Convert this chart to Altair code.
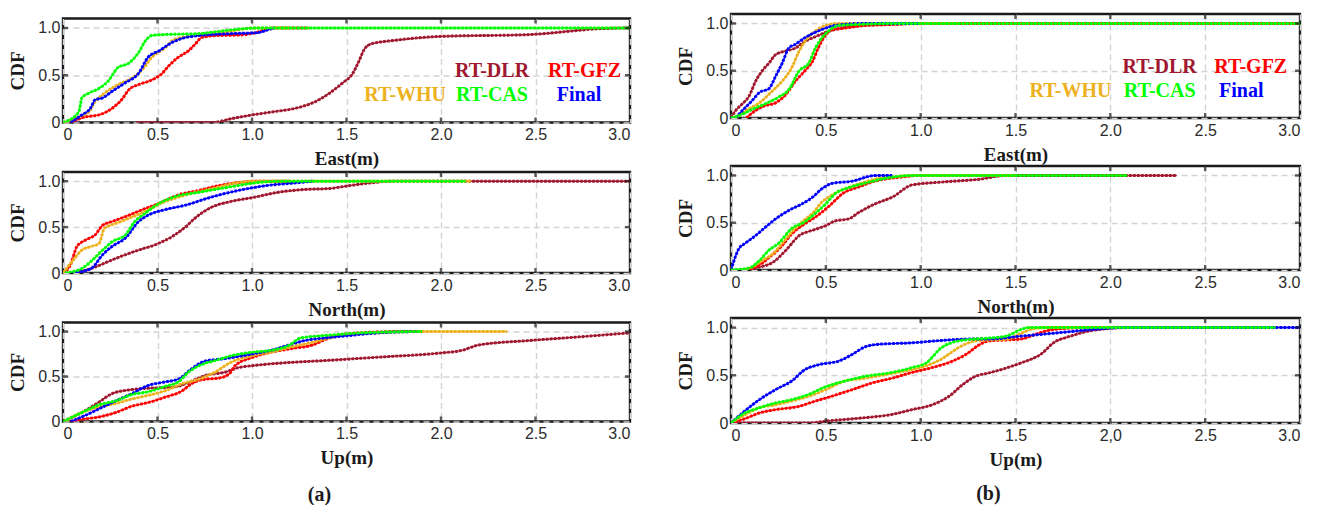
import altair as alt
import pandas as pd

# ---------------- data ----------------
SERIES = ["RT-DLR", "RT-GFZ", "RT-WHU", "RT-CAS", "Final"]
COLORS = ["#A0182F", "#FF0000", "#EDB120", "#00FF00", "#0000FF"]
X_TICKS = [0, 0.5, 1.0, 1.5, 2.0, 2.5, 3.0]
Y_TICKS = [0, 0.5, 1.0]
X_TITLES = ["East(m)", "North(m)", "Up(m)"]
PANEL_LABELS = ["(a)", "(b)"]

# (a) East
A_E_DLR = [(0.39, 0), (0.79, 0), (0.89, 0.04), (1.0, 0.08), (1.1, 0.11), (1.25, 0.16), (1.335, 0.22),
           (1.41, 0.31), (1.48, 0.42), (1.53, 0.51), (1.566, 0.65), (1.593, 0.77), (1.628, 0.83),
           (1.76, 0.87), (1.99, 0.91), (2.47, 0.93), (2.73, 0.975), (2.82, 0.99), (3.0, 1.0)]
A_E_GFZ = [(0.04, 0), (0.12, 0.06), (0.19, 0.08), (0.26, 0.15), (0.31, 0.24), (0.35, 0.35), (0.40, 0.40),
           (0.47, 0.45), (0.52, 0.51), (0.56, 0.60), (0.61, 0.69), (0.665, 0.76), (0.70, 0.83),
           (0.735, 0.90), (0.81, 0.92), (0.93, 0.925), (1.02, 0.95), (1.07, 0.98), (1.12, 1.0), (1.3, 1.0)]
A_E_WHU = [(0.01, 0), (0.08, 0.06), (0.136, 0.11), (0.17, 0.22), (0.22, 0.31), (0.29, 0.40), (0.365, 0.47),
           (0.42, 0.56), (0.47, 0.69), (0.54, 0.79), (0.59, 0.88), (0.665, 0.91), (0.81, 0.94),
           (0.93, 0.98), (1.0, 1.0), (1.2, 1.0)]
A_E_CAS = [(0, 0), (0.083, 0.11), (0.1, 0.26), (0.136, 0.31), (0.19, 0.36), (0.24, 0.44), (0.29, 0.58),
           (0.35, 0.63), (0.40, 0.74), (0.435, 0.86), (0.47, 0.92), (0.54, 0.93), (0.72, 0.94),
           (0.89, 0.98), (1.03, 1.0), (3.0, 1.0)]
A_E_FIN = [(0.04, 0), (0.1, 0.08), (0.145, 0.15), (0.17, 0.24), (0.21, 0.26), (0.26, 0.33), (0.33, 0.42),
           (0.40, 0.52), (0.45, 0.69), (0.51, 0.76), (0.58, 0.85), (0.65, 0.90), (0.72, 0.92),
           (0.89, 0.94), (1.03, 0.95), (1.1, 0.99), (1.12, 1.0)]

# (a) North
A_N_DLR = [(0.065, 0), (0.15, 0.05), (0.28, 0.16), (0.40, 0.25), (0.49, 0.31), (0.58, 0.40), (0.65, 0.505),
           (0.70, 0.60), (0.77, 0.70), (0.89, 0.78), (1.0, 0.82), (1.14, 0.88), (1.28, 0.91), (1.41, 0.92),
           (1.51, 0.95), (1.62, 0.98), (1.75, 1.0), (3.0, 1.0)]
A_N_GFZ = [(0, 0), (0.04, 0.09), (0.074, 0.29), (0.12, 0.36), (0.17, 0.415), (0.21, 0.52), (0.26, 0.56),
           (0.35, 0.63), (0.42, 0.69), (0.51, 0.76), (0.61, 0.85), (0.72, 0.90), (0.82, 0.95),
           (0.93, 0.985), (1.02, 1.0), (1.2, 1.0)]
A_N_WHU = [(0, 0), (0.05, 0.13), (0.1, 0.25), (0.15, 0.29), (0.19, 0.32), (0.22, 0.49), (0.28, 0.54),
           (0.365, 0.61), (0.435, 0.67), (0.52, 0.76), (0.65, 0.85), (0.79, 0.92), (0.93, 0.985),
           (1.0, 1.0), (2.16, 1.0)]
A_N_CAS = [(0.01, 0), (0.1, 0.05), (0.15, 0.13), (0.21, 0.25), (0.26, 0.34), (0.33, 0.415), (0.38, 0.56),
           (0.435, 0.65), (0.51, 0.76), (0.59, 0.83), (0.72, 0.88), (0.89, 0.94), (1.03, 0.985),
           (1.16, 1.0), (2.13, 1.0)]
A_N_FIN = [(0.05, 0), (0.15, 0.05), (0.21, 0.20), (0.26, 0.29), (0.33, 0.38), (0.40, 0.56), (0.45, 0.63),
           (0.54, 0.69), (0.65, 0.74), (0.79, 0.83), (0.93, 0.90), (1.07, 0.95), (1.25, 0.985), (1.32, 1.0)]

# (a) Up
A_U_DLR = [(0, 0), (0.1, 0.10), (0.19, 0.215), (0.26, 0.31), (0.365, 0.355), (0.45, 0.37), (0.58, 0.38),
           (0.65, 0.42), (0.75, 0.51), (0.86, 0.55), (0.93, 0.60), (1.0, 0.62), (1.16, 0.65), (1.41, 0.68),
           (1.67, 0.715), (1.99, 0.76), (2.11, 0.79), (2.20, 0.85), (2.47, 0.90), (2.73, 0.94), (3.0, 0.985)]
A_U_GFZ = [(0.04, 0), (0.12, 0.03), (0.19, 0.05), (0.28, 0.10), (0.365, 0.17), (0.45, 0.21), (0.54, 0.27),
           (0.63, 0.34), (0.68, 0.42), (0.75, 0.47), (0.82, 0.48), (0.88, 0.53), (0.91, 0.62), (1.0, 0.71),
           (1.1, 0.77), (1.21, 0.81), (1.32, 0.85), (1.41, 0.93), (1.45, 0.955), (1.58, 0.985),
           (1.8, 1.0), (1.9, 1.0)]
A_U_WHU = [(0.01, 0), (0.1, 0.10), (0.19, 0.16), (0.28, 0.20), (0.365, 0.25), (0.45, 0.29), (0.54, 0.34),
           (0.63, 0.42), (0.72, 0.47), (0.81, 0.555), (0.89, 0.66), (1.0, 0.73), (1.1, 0.77), (1.21, 0.83),
           (1.32, 0.88), (1.41, 0.93), (1.49, 0.96), (1.67, 0.985), (1.85, 1.0), (2.35, 1.0)]
A_U_CAS = [(0, 0), (0.1, 0.10), (0.19, 0.185), (0.28, 0.23), (0.365, 0.30), (0.45, 0.33), (0.54, 0.39),
           (0.61, 0.44), (0.665, 0.55), (0.72, 0.62), (0.81, 0.68), (0.89, 0.73), (1.0, 0.77), (1.1, 0.79),
           (1.19, 0.84), (1.26, 0.93), (1.35, 0.95), (1.41, 0.96), (1.58, 0.985), (1.9, 1.0)]
A_U_FIN = [(0.04, 0), (0.12, 0.07), (0.19, 0.14), (0.28, 0.23), (0.365, 0.31), (0.45, 0.40), (0.54, 0.44),
           (0.61, 0.47), (0.68, 0.585), (0.75, 0.67), (0.86, 0.70), (1.0, 0.75), (1.1, 0.79), (1.21, 0.86),
           (1.28, 0.90), (1.39, 0.93), (1.51, 0.955), (1.67, 0.985), (1.88, 1.0)]

# (b) East
B_E_DLR = [(0, 0), (0.025, 0.08), (0.06, 0.15), (0.095, 0.23), (0.13, 0.39), (0.165, 0.50), (0.20, 0.58),
           (0.235, 0.67), (0.29, 0.71), (0.34, 0.74), (0.39, 0.81), (0.445, 0.86), (0.52, 0.92),
           (0.60, 0.96), (0.71, 0.98), (0.85, 0.99), (0.95, 1.0), (1.5, 1.0)]
B_E_GFZ = [(0.08, 0), (0.13, 0.08), (0.18, 0.13), (0.235, 0.16), (0.29, 0.25), (0.34, 0.39), (0.39, 0.50),
           (0.43, 0.60), (0.46, 0.74), (0.5, 0.88), (0.53, 0.93), (0.60, 0.95), (0.71, 0.98), (0.85, 0.99),
           (1.0, 1.0), (3.0, 1.0)]
B_E_WHU = [(0.025, 0), (0.08, 0.08), (0.15, 0.16), (0.22, 0.29), (0.27, 0.39), (0.32, 0.53), (0.36, 0.71),
           (0.39, 0.81), (0.445, 0.92), (0.5, 0.98), (0.57, 1.0), (1.2, 1.0)]
B_E_CAS = [(0, 0), (0.06, 0.04), (0.11, 0.09), (0.18, 0.15), (0.25, 0.22), (0.305, 0.30), (0.36, 0.50),
           (0.41, 0.58), (0.445, 0.74), (0.48, 0.85), (0.52, 0.93), (0.57, 0.98), (0.675, 0.99),
           (0.85, 1.0), (3.0, 1.0)]
B_E_FIN = [(0.025, 0), (0.06, 0.08), (0.11, 0.18), (0.15, 0.27), (0.20, 0.31), (0.235, 0.44), (0.27, 0.58),
           (0.305, 0.74), (0.34, 0.78), (0.39, 0.85), (0.46, 0.92), (0.53, 0.97), (0.60, 0.99),
           (0.7, 1.0), (1.0, 1.0)]

# (b) North
B_N_DLR = [(0.08, 0), (0.15, 0.03), (0.22, 0.08), (0.29, 0.21), (0.36, 0.365), (0.43, 0.42), (0.5, 0.47),
           (0.55, 0.52), (0.62, 0.54), (0.675, 0.61), (0.76, 0.70), (0.85, 0.77), (0.955, 0.90),
           (1.11, 0.93), (1.31, 0.96), (1.45, 1.0), (2.35, 1.0)]
B_N_GFZ = [(0.06, 0), (0.13, 0.03), (0.20, 0.13), (0.27, 0.26), (0.32, 0.38), (0.39, 0.49), (0.445, 0.56),
           (0.52, 0.68), (0.59, 0.81), (0.675, 0.88), (0.76, 0.94), (0.885, 0.98), (1.0, 1.0), (1.5, 1.0)]
B_N_WHU = [(0.04, 0), (0.11, 0.03), (0.165, 0.10), (0.22, 0.17), (0.27, 0.28), (0.32, 0.40), (0.375, 0.51),
           (0.43, 0.60), (0.48, 0.72), (0.53, 0.79), (0.59, 0.85), (0.675, 0.91), (0.78, 0.97),
           (0.885, 0.99), (0.95, 1.0), (1.5, 1.0)]
B_N_CAS = [(0, 0), (0.095, 0.02), (0.15, 0.10), (0.20, 0.21), (0.25, 0.28), (0.32, 0.44), (0.39, 0.51),
           (0.445, 0.60), (0.5, 0.70), (0.55, 0.81), (0.62, 0.87), (0.71, 0.92), (0.815, 0.97),
           (0.955, 1.0), (2.09, 1.0)]
B_N_FIN = [(0, 0), (0.016, 0.10), (0.04, 0.22), (0.08, 0.29), (0.13, 0.365), (0.18, 0.45), (0.235, 0.54),
           (0.305, 0.63), (0.375, 0.70), (0.43, 0.77), (0.48, 0.86), (0.53, 0.915), (0.64, 0.94),
           (0.76, 1.0), (0.85, 1.0)]

# (b) Up
B_U_DLR = [(0, 0), (0.41, 0), (0.5, 0.02), (0.675, 0.05), (0.85, 0.09), (0.955, 0.14), (1.06, 0.19),
           (1.15, 0.28), (1.22, 0.40), (1.29, 0.49), (1.36, 0.525), (1.45, 0.575), (1.53, 0.63),
           (1.64, 0.73), (1.70, 0.84), (1.79, 0.91), (1.88, 0.96), (1.99, 0.99), (2.1, 1.0), (2.5, 1.0)]
B_U_GFZ = [(0, 0), (0.08, 0.05), (0.15, 0.105), (0.235, 0.14), (0.36, 0.175), (0.445, 0.23), (0.53, 0.28),
           (0.64, 0.35), (0.745, 0.42), (0.85, 0.47), (0.955, 0.53), (1.06, 0.58), (1.17, 0.65),
           (1.24, 0.72), (1.31, 0.82), (1.36, 0.86), (1.45, 0.87), (1.53, 0.88), (1.62, 0.94),
           (1.70, 0.98), (1.88, 1.0), (2.6, 1.0)]
B_U_WHU = [(0, 0), (0.06, 0.07), (0.15, 0.16), (0.235, 0.19), (0.32, 0.23), (0.41, 0.28), (0.5, 0.35),
           (0.60, 0.44), (0.71, 0.47), (0.85, 0.52), (0.955, 0.56), (1.03, 0.60), (1.11, 0.67),
           (1.20, 0.79), (1.29, 0.86), (1.36, 0.87), (1.45, 0.875), (1.53, 0.94), (1.60, 0.99),
           (1.7, 1.0), (2.8, 1.0)]
B_U_CAS = [(0, 0), (0.06, 0.09), (0.15, 0.16), (0.235, 0.21), (0.32, 0.245), (0.41, 0.30), (0.5, 0.38),
           (0.60, 0.44), (0.71, 0.49), (0.85, 0.53), (0.955, 0.58), (1.03, 0.63), (1.11, 0.79),
           (1.20, 0.86), (1.29, 0.88), (1.36, 0.89), (1.45, 0.91), (1.53, 0.98), (1.57, 1.0), (2.87, 1.0)]
B_U_FIN = [(0, 0), (0.06, 0.105), (0.15, 0.245), (0.235, 0.35), (0.32, 0.44), (0.39, 0.56), (0.46, 0.61),
           (0.57, 0.65), (0.64, 0.72), (0.71, 0.80), (0.78, 0.825), (0.955, 0.84), (1.11, 0.865),
           (1.29, 0.88), (1.36, 0.88), (1.53, 0.91), (1.70, 0.94), (1.88, 0.975), (1.97, 0.99),
           (2.05, 1.0), (3.0, 1.0)]

PANELS_A = [[A_E_DLR, A_E_GFZ, A_E_WHU, A_E_CAS, A_E_FIN],
            [A_N_DLR, A_N_GFZ, A_N_WHU, A_N_CAS, A_N_FIN],
            [A_U_DLR, A_U_GFZ, A_U_WHU, A_U_CAS, A_U_FIN]]
PANELS_B = [[B_E_DLR, B_E_GFZ, B_E_WHU, B_E_CAS, B_E_FIN],
            [B_N_DLR, B_N_GFZ, B_N_WHU, B_N_CAS, B_N_FIN],
            [B_U_DLR, B_U_GFZ, B_U_WHU, B_U_CAS, B_U_FIN]]

# legend text placement (data coordinates of the East panels)
LEGEND_X_A = [2.27, 2.76, 1.81, 2.27, 2.73]
LEGEND_X_B = [2.26, 2.74, 1.79, 2.26, 2.69]
LEGEND_Y = [0.54, 0.54, 0.29, 0.29, 0.29]

# ---------------- styling ----------------
SANS = "Liberation Sans"
SERIF = "Liberation Serif"
DRAW_ORDER = [0, 1, 2, 4, 3]  # DLR, GFZ, WHU, Final, CAS (CAS on top)

XS = alt.Scale(domain=[0, 3], nice=False, zero=False)
YS = alt.Scale(domain=[0, 1.1], nice=False, zero=False)

LBL = "datum.value == 0 ? '0' : format(datum.value, '.1f')"


def make_axes(x_title, x_label_expr):
    common = dict(grid=True, gridDash=[6, 4], gridColor="#d4d4d4", gridWidth=1.4,
                  ticks=False, domain=False, labelFont=SANS, labelFontSize=16,
                  labelColor="#2b2b2b", titleFont=SERIF, titleFontSize=19,
                  titleFontWeight="bold", titleColor="#1a1a1a")
    xa = alt.Axis(values=X_TICKS, title=x_title, labelExpr=x_label_expr,
                  labelPadding=4, titlePadding=7, **common)
    ya = alt.Axis(values=Y_TICKS, title="CDF", labelExpr=LBL, labelPadding=3,
                  titlePadding=10, **common)
    return xa, ya


def panel(series_lists, x_title, width, height, legend_x=None, x_label_expr=LBL):
    xa, ya = make_axes(x_title, x_label_expr)
    layers = []
    for k in DRAW_ORDER:
        pts = series_lists[k]
        df = pd.DataFrame({"x": [p[0] for p in pts], "y": [p[1] for p in pts],
                           "i": list(range(len(pts)))})
        base = alt.Chart(df).encode(
            x=alt.X("x:Q", scale=XS, axis=xa),
            y=alt.Y("y:Q", scale=YS, axis=ya),
            order=alt.Order("i:Q"),
        )
        layers.append(base.mark_line(color=COLORS[k], strokeWidth=1.4,
                                     interpolate="monotone", clip=True))
        layers.append(base.mark_line(color=COLORS[k], strokeWidth=2.9, strokeDash=[2.6, 1.4],
                                     interpolate="monotone", clip=True))
    # inward ticks on the frame
    xt = pd.DataFrame({"x": X_TICKS[1:-1]})
    yt = pd.DataFrame({"y": Y_TICKS[1:]})
    for yv in [0, height]:
        layers.append(alt.Chart(xt).mark_tick(color="#1a1a1a", size=10, thickness=2.4, clip=True)
                      .encode(x=alt.X("x:Q", scale=XS, axis=xa), y=alt.value(yv)))
    for xv in [0, width]:
        layers.append(alt.Chart(yt).mark_tick(color="#1a1a1a", size=10, thickness=2.4, clip=True)
                      .encode(y=alt.Y("y:Q", scale=YS, axis=ya), x=alt.value(xv)))
    if legend_x is not None:
        ldf = pd.DataFrame({"label": SERIES, "x": legend_x, "y": LEGEND_Y})
        layers.append(alt.Chart(ldf).mark_text(font=SERIF, fontSize=20, fontWeight="bold",
                                               align="center", baseline="middle")
                      .encode(x=alt.X("x:Q", scale=XS, axis=xa),
                              y=alt.Y("y:Q", scale=YS, axis=ya),
                              text="label:N",
                              color=alt.Color("label:N", scale=alt.Scale(domain=SERIES, range=COLORS),
                                              legend=None)))
    return alt.layer(*layers).properties(width=width, height=height)


def spacer(width, height):
    # empty, frameless strip that lowers column (a) a few pixels below column (b)
    return (alt.Chart(pd.DataFrame({"v": [0]}))
            .mark_point(opacity=0)
            .encode(x=alt.value(0), y=alt.value(0))
            .properties(width=width, height=height,
                        view=alt.ViewBackground(stroke="transparent", strokeWidth=0)))


HEIGHTS_A = [104, 101, 99]
HEIGHTS_B = [104, 104, 105]
WA, WB = 567, 569
SPACING_A, SPACING_B = -0.5, -2

col_a = alt.vconcat(
    spacer(WA, 3),
    *[panel(PANELS_A[r], X_TITLES[r], WA, HEIGHTS_A[r], LEGEND_X_A if r == 0 else None)
      for r in range(3)],
    spacing=SPACING_A,
).properties(title=alt.TitleParams(PANEL_LABELS[0], orient="bottom", font=SERIF, fontSize=20,
                                   fontWeight="bold", color="#1a1a1a", offset=16, anchor="middle"))

B_UP_LBL = "datum.value == 0 ? '0' : (datum.value == 2 ? '2,0' : format(datum.value, '.1f'))"
col_b = alt.vconcat(
    *[panel(PANELS_B[r], X_TITLES[r], WB, HEIGHTS_B[r], LEGEND_X_B if r == 0 else None,
            B_UP_LBL if r == 2 else LBL)
      for r in range(3)],
    spacing=SPACING_B,
).properties(title=alt.TitleParams(PANEL_LABELS[1], orient="bottom", font=SERIF, fontSize=20,
                                   fontWeight="bold", color="#1a1a1a", offset=14, anchor="middle"))

chart = alt.hconcat(col_a, col_b, spacing=43).properties(
    padding={"left": 7, "top": 11, "right": 0, "bottom": 0},
    background="white",
).configure_view(stroke="#1a1a1a", strokeWidth=2.4)

chart.save("out.html", embed_options={"renderer": "svg", "actions": False})
